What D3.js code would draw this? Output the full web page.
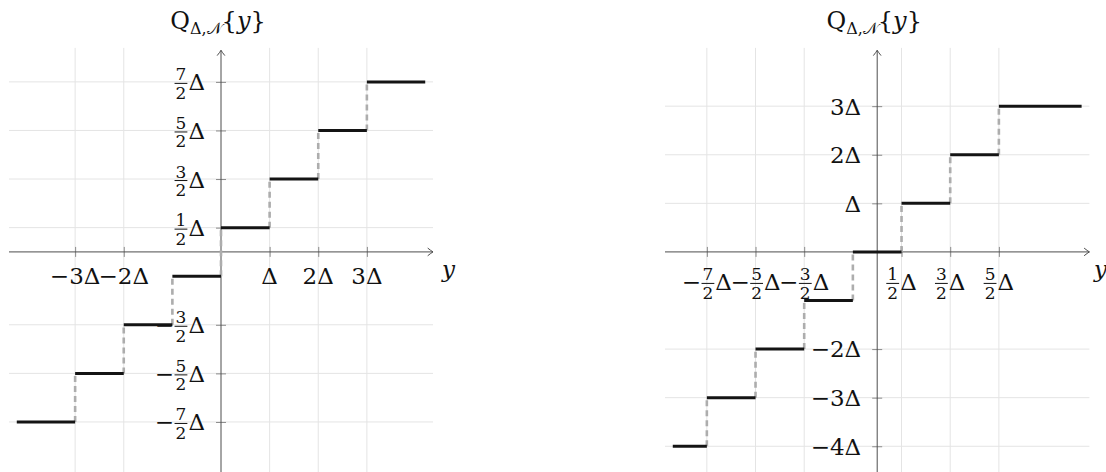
<!DOCTYPE html>
<html>
<head>
<meta charset="utf-8">
<script src="https://cdn.jsdelivr.net/npm/d3@7"></script>
<style>
  html, body { margin: 0; padding: 0; background: #fff; }
  svg { display: block; }
  text { font-family: "DejaVu Serif", "Liberation Serif", serif; fill: #111; }
</style>
</head>
<body>
<svg id="chart" width="1106" height="472"></svg>
<script>
// Quantizer step tables: [from, to, output level], all in units of Δ
const midRiseSteps = [
  [-4.2, -3, -3.5], [-3, -2, -2.5], [-2, -1, -1.5], [-1, 0, -0.5],
  [0, 1, 0.5], [1, 2, 1.5], [2, 3, 2.5], [3, 4.2, 3.5]
];
const midTreadSteps = [
  [-4.2, -3.5, -4], [-3.5, -2.5, -3], [-2.5, -1.5, -2], [-1.5, -0.5, -1],
  [-0.5, 0.5, 0], [0.5, 1.5, 1], [1.5, 2.5, 2], [2.5, 4.2, 3]
];

// Tick positions (units of Δ) and their labels
const midRiseXTicks = [-3, -2, 1, 2, 3];
const midRiseXLabels = ["−3Δ", "−2Δ", "Δ", "2Δ", "3Δ"];
const midRiseYTicks = [3.5, 2.5, 1.5, 0.5, -1.5, -2.5, -3.5];
const midRiseYLabels = ["7/2Δ", "5/2Δ", "3/2Δ", "1/2Δ", "−3/2Δ", "−5/2Δ", "−7/2Δ"];

const midTreadXTicks = [-3.5, -2.5, -1.5, 0.5, 1.5, 2.5];
const midTreadXLabels = ["−7/2Δ", "−5/2Δ", "−3/2Δ", "1/2Δ", "3/2Δ", "5/2Δ"];
const midTreadYTicks = [3, 2, 1, -2, -3, -4];
const midTreadYLabels = ["3Δ", "2Δ", "Δ", "−2Δ", "−3Δ", "−4Δ"];

const titleMain = "Q";
const titleSub = "Δ,𝒩";
const titleArg = "y";
const xAxisName = "y";

const svg = d3.select("#chart");
svg.append("rect").attr("width", 1106).attr("height", 472).attr("fill", "#fff");

const TICK_FS = 23, FRAC_FS = 17;

// Draws a coefficient-times-Δ label; fractions are stacked numerator/denominator.
// mode "east": right edge at (ax, ay) and vertically centred on ay
// mode "north": horizontally centred on ax, top edge at ay
function drawLabel(parent, str, ax, ay, mode) {
  const g = parent.append("g");
  const m = str.match(/^(−?)(\d+)\/(\d+)Δ$/);
  let width = 0;
  if (m) {
    const b = mode === "east" ? 1.5 : 15.5;   // fraction bar y, relative to ay
    let cursor = 0;
    if (m[1]) {
      const s = g.append("text").attr("font-size", TICK_FS).attr("x", 0).attr("y", b + 7).text("−");
      cursor += s.node().getComputedTextLength() + 0.5;
    }
    const num = g.append("text").attr("font-size", FRAC_FS).attr("text-anchor", "middle").text(m[2]);
    const den = g.append("text").attr("font-size", FRAC_FS).attr("text-anchor", "middle").text(m[3]);
    const fw = Math.max(num.node().getComputedTextLength(), den.node().getComputedTextLength()) + 2;
    const cx = cursor + fw / 2;
    num.attr("x", cx).attr("y", b - 3);
    den.attr("x", cx).attr("y", b + 15.5);
    g.append("line").attr("x1", cursor).attr("x2", cursor + fw)
      .attr("y1", b).attr("y2", b).attr("stroke", "#111").attr("stroke-width", 1);
    cursor += fw + 1;
    const d = g.append("text").attr("font-size", TICK_FS).attr("x", cursor).attr("y", b + 7).text("Δ");
    cursor += d.node().getComputedTextLength();
    width = cursor;
  } else {
    const base = mode === "east" ? 8.4 : 15.8;
    const t = g.append("text").attr("font-size", TICK_FS).attr("x", 0).attr("y", base).text(str);
    width = t.node().getComputedTextLength();
  }
  const dx = mode === "east" ? ax - width : ax - width / 2;
  g.attr("transform", `translate(${dx},${ay})`);
}

function arrowHead(parent, x0, y0, angle) {
  parent.append("path")
    .attr("d", "M-5,-3.6 Q-2,-1.2 0,0 Q-2,1.2 -5,3.6")
    .attr("fill", "none").attr("stroke", "#4d4d4d").attr("stroke-width", 1)
    .attr("stroke-linecap", "round")
    .attr("transform", `translate(${x0},${y0}) rotate(${angle})`);
}

function drawPanel(cfg) {
  const g = svg.append("g");
  const x = d3.scaleLinear().domain([-4.36, 4.36]).range(cfg.xRange);
  const y = d3.scaleLinear().domain([-4.53, 4.15]).range([472, 50.3]);

  // grid
  const grid = g.append("g").attr("stroke", "#e4e4e4").attr("stroke-width", 1);
  grid.selectAll("line.v").data(cfg.xTicks).join("line").attr("class", "v")
    .attr("x1", d => x(d)).attr("x2", d => x(d))
    .attr("y1", y(-4.53)).attr("y2", y(4.2));
  grid.selectAll("line.h").data(cfg.yTicks).join("line").attr("class", "h")
    .attr("y1", d => y(d)).attr("y2", d => y(d))
    .attr("x1", x(-4.36)).attr("x2", x(4.36));

  // tick marks crossing the axes
  const xAxis = d3.axisBottom(x).tickValues(cfg.xTicks).tickSize(10).tickFormat("");
  const gx = g.append("g").attr("transform", `translate(0,${y(0) - 5})`).call(xAxis);
  const yAxis = d3.axisLeft(y).tickValues(cfg.yTicks).tickSize(10).tickFormat("");
  const gy = g.append("g").attr("transform", `translate(${x(0) + 5},0)`).call(yAxis);
  [gx, gy].forEach(a => {
    a.select(".domain").remove();
    a.selectAll(".tick line").attr("stroke", "#8a8a8a").attr("stroke-width", 1);
  });

  // axis lines with arrow tips
  g.append("line").attr("x1", x(-4.36)).attr("x2", x(4.36))
    .attr("y1", y(0)).attr("y2", y(0)).attr("stroke", "#4d4d4d").attr("stroke-width", 1);
  arrowHead(g, x(4.36), y(0), 0);
  g.append("line").attr("x1", x(0)).attr("x2", x(0))
    .attr("y1", y(-4.53)).attr("y2", y(4.15)).attr("stroke", "#4d4d4d").attr("stroke-width", 1);
  arrowHead(g, x(0), y(4.15), -90);

  // dashed jumps between consecutive levels
  const jumps = d3.pairs(cfg.steps).map(([a, b]) => [a[1], a[2], b[2]]);
  g.append("g").selectAll("line").data(jumps).join("line")
    .attr("x1", d => x(d[0])).attr("x2", d => x(d[0]))
    .attr("y1", d => y(d[1])).attr("y2", d => y(d[2]))
    .attr("stroke", "#adadad").attr("stroke-width", 2.6).attr("stroke-dasharray", "6,4");

  // quantizer levels
  g.append("g").selectAll("line").data(cfg.steps).join("line")
    .attr("x1", d => x(d[0])).attr("x2", d => x(d[1]))
    .attr("y1", d => y(d[2])).attr("y2", d => y(d[2]))
    .attr("stroke", "#141414").attr("stroke-width", 3);

  // tick labels
  cfg.xTicks.forEach((t, i) => drawLabel(g, cfg.xLabels[i], x(t), y(0) + 16, "north"));
  cfg.yTicks.forEach((t, i) => drawLabel(g, cfg.yLabels[i], x(0) - 16, y(t), "east"));

  // axis name
  g.append("text").attr("x", Math.min(x(4.36) + 9, 1094)).attr("y", y(0) + 25)
    .attr("font-size", 23).attr("font-style", "italic").text(xAxisName);

  // title above the vertical axis
  const title = g.append("text").attr("x", x(0) - 3).attr("y", 29)
    .attr("text-anchor", "middle").attr("font-size", 24);
  title.append("tspan").text(titleMain);
  title.append("tspan").attr("font-size", 16).attr("dy", 5).text(titleSub);
  title.append("tspan").attr("dy", -5).text("{");
  title.append("tspan").attr("font-style", "italic").text(titleArg);
  title.append("tspan").text("}");
}

drawPanel({
  xRange: [9, 433],
  steps: midRiseSteps,
  xTicks: midRiseXTicks, xLabels: midRiseXLabels,
  yTicks: midRiseYTicks, yLabels: midRiseYLabels
});
drawPanel({
  xRange: [665, 1089.4],
  steps: midTreadSteps,
  xTicks: midTreadXTicks, xLabels: midTreadXLabels,
  yTicks: midTreadYTicks, yLabels: midTreadYLabels
});
</script>
</body>
</html>
